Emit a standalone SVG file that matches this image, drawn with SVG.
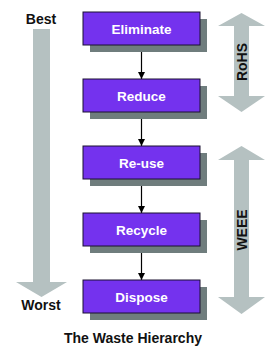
<svg xmlns="http://www.w3.org/2000/svg" width="280" height="360" viewBox="0 0 280 360">
<style>
.shadow{fill:#6f7d7d}
.box{fill:#7432ee;stroke:#1a1030;stroke-width:1}
.lbl{font-family:"Liberation Sans",Arial,sans-serif;font-weight:bold;font-size:13.5px;fill:#ffffff;text-anchor:middle}
.side{font-family:"Liberation Sans",Arial,sans-serif;font-weight:bold;font-size:14px;fill:#111111;text-anchor:middle}
.garrow{fill:#b5c1c1}
.conn{stroke:#000000;stroke-width:1.2;fill:none}
</style>
<defs>
<marker id="ah" markerWidth="8" markerHeight="8" refX="7" refY="4" orient="auto" markerUnits="userSpaceOnUse">
<path d="M0,0.5 L7,4 L0,7.5 Z" fill="#000000"/>
</marker>
</defs>
<rect width="280" height="360" fill="#ffffff"/>
<g id="best-worst">
<path class="garrow" d="M33,29 H50 V282 H67 L41.5,297 L16,282 H33 Z"/>
<text class="side" x="41" y="24">Best</text>
<text class="side" x="41" y="310">Worst</text>
</g>
<g id="rohs">
<path class="garrow" d="M241.5,13 L265,26 H249 V96 H265 L241.5,112 L218,96 H234 V26 H218 Z"/>
<text class="side" transform="translate(247,62) rotate(-90)">RoHS</text>
</g>
<g id="weee">
<path class="garrow" d="M241.5,146 L265,160 H249 V297 H265 L241.5,314 L218,297 H234 V160 H218 Z"/>
<text class="side" transform="translate(247,230) rotate(-90)">WEEE</text>
</g>
<g id="connectors">
<line class="conn" x1="141.5" y1="45" x2="141.5" y2="79" marker-end="url(#ah)"/>
<line class="conn" x1="141.5" y1="112" x2="141.5" y2="146" marker-end="url(#ah)"/>
<line class="conn" x1="141.5" y1="179" x2="141.5" y2="213" marker-end="url(#ah)"/>
<line class="conn" x1="141.5" y1="246" x2="141.5" y2="280" marker-end="url(#ah)"/>
</g>
<g id="eliminate">
<rect class="shadow" x="90" y="19" width="117" height="33"/>
<rect class="box" x="83" y="12" width="117" height="33"/>
<text class="lbl" x="141.5" y="33.5">Eliminate</text>
</g>
<g id="reduce">
<rect class="shadow" x="90" y="86" width="117" height="33"/>
<rect class="box" x="83" y="79" width="117" height="33"/>
<text class="lbl" x="141.5" y="100.5">Reduce</text>
</g>
<g id="reuse">
<rect class="shadow" x="90" y="153" width="117" height="33"/>
<rect class="box" x="83" y="146" width="117" height="33"/>
<text class="lbl" x="141.5" y="167.5">Re-use</text>
</g>
<g id="recycle">
<rect class="shadow" x="90" y="220" width="117" height="33"/>
<rect class="box" x="83" y="213" width="117" height="33"/>
<text class="lbl" x="141.5" y="234.5">Recycle</text>
</g>
<g id="dispose">
<rect class="shadow" x="90" y="287" width="117" height="33"/>
<rect class="box" x="83" y="280" width="117" height="33"/>
<text class="lbl" x="141.5" y="301.5">Dispose</text>
</g>
<text class="side" x="133" y="343">The Waste Hierarchy</text>
</svg>
